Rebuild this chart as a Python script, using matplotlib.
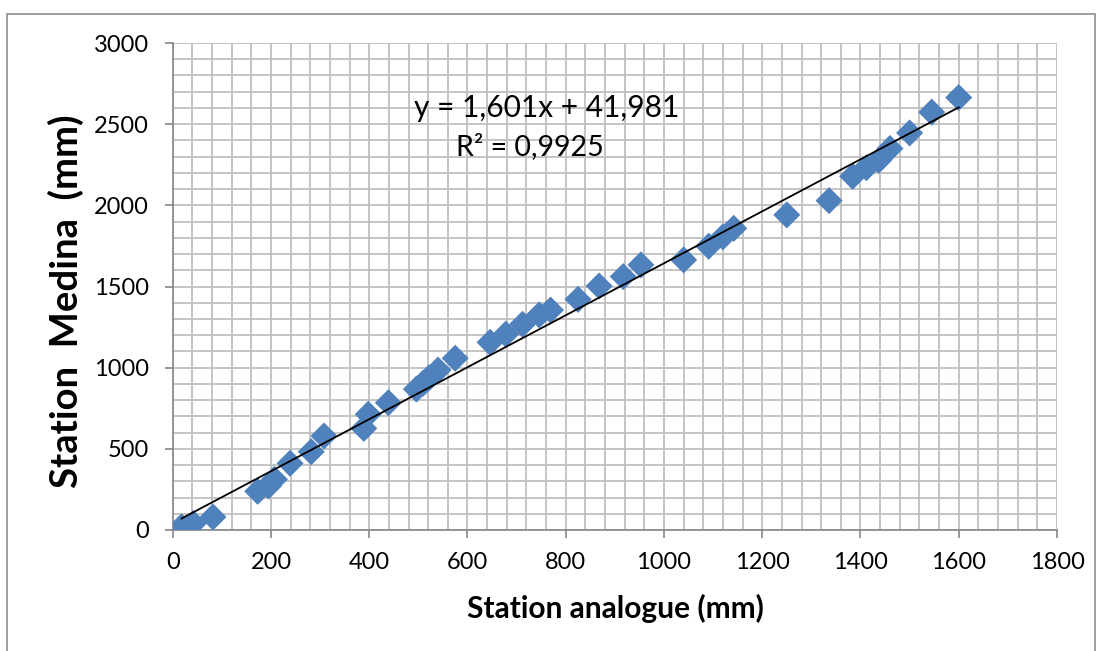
import numpy as np
import matplotlib
matplotlib.use("Agg")
import matplotlib.pyplot as plt
from matplotlib.ticker import MultipleLocator
from matplotlib.patches import Rectangle

# Data
analogue = [18, 42, 82, 173, 195, 207, 239, 282, 308, 389, 398, 439, 496, 510,
            522, 540, 575, 646, 678, 712, 746, 769, 825, 868, 917, 953, 1040,
            1091, 1120, 1142, 1250, 1336, 1384, 1412, 1437, 1460, 1500, 1545, 1600]
medina = [20, 40, 80, 238, 271, 312, 411, 482, 579, 626, 713, 784, 868, 905,
          938, 985, 1058, 1156, 1206, 1267, 1325, 1355, 1421, 1503, 1561, 1633, 1664,
          1748, 1806, 1858, 1941, 2029, 2179, 2232, 2277, 2350, 2446, 2574, 2664]
slope = 1.601
intercept = 41.981
eq_text = "y = 1,601x + 41,981"
r2_text = "R² = 0,9925"
x_ticks = [0, 200, 400, 600, 800, 1000, 1200, 1400, 1600, 1800]
y_ticks = [0, 500, 1000, 1500, 2000, 2500, 3000]

plt.rcParams['font.family'] = ['Lato', 'DejaVu Sans']

W, H = 1102, 651
fig = plt.figure(figsize=(W / 100, H / 100), dpi=100)
fig.patch.set_facecolor('white')

# outer chart border
fig.add_artist(Rectangle((7 / W, -0.01), (1095 - 7) / W, 1 - 14 / H + 0.01,
                         transform=fig.transFigure, fill=False,
                         edgecolor='#8c8c8c', linewidth=1.2))

ax = fig.add_axes([172.7 / W, 1 - 530 / H, (1057 - 172.7) / W, (530 - 43) / H])
ax.set_xlim(0, 1800)
ax.set_ylim(0, 3000)
ax.xaxis.set_minor_locator(MultipleLocator(40))
ax.yaxis.set_minor_locator(MultipleLocator(100))
ax.set_xticks(x_ticks)
ax.set_yticks(y_ticks)

gridc = '#bfbfbf'
ax.grid(True, which='both', color=gridc, linewidth=1.3)
ax.set_axisbelow(True)

for s in ['top', 'right']:
    ax.spines[s].set_visible(False)
for s in ['left', 'bottom']:
    ax.spines[s].set_color('#868686')
    ax.spines[s].set_linewidth(1.2)

ax.tick_params(which='major', direction='out', length=6, width=1.2,
               color='#868686', labelsize=17, labelcolor='black')
ax.tick_params(which='minor', length=0)
ax.tick_params(axis='y', pad=11)
ax.tick_params(axis='x', pad=10)

ax.scatter(analogue, medina, marker='D', s=190, color='#4f81bd',
           edgecolors='none', zorder=3)

xl = np.array([min(analogue), max(analogue)])
ax.plot(xl, slope * xl + intercept, color='black', linewidth=1.3, zorder=4)

ax.text((547 - 172.7) / (1057 - 172.7), (530 - 108) / 487, eq_text,
        transform=ax.transAxes, ha='center', va='center', fontsize=21.5)
ax.text((530 - 172.7) / (1057 - 172.7), (530 - 147) / 487, r2_text,
        transform=ax.transAxes, ha='center', va='center', fontsize=20.5)

fig.text(615 / W, 1 - 608 / H, "Station analogue (mm)", ha='center', va='center',
         fontsize=21.5, fontweight='bold')
fig.text(66 / W, 1 - 301 / H, "Station  Medina  (mm)", ha='center', va='center',
         rotation=90, fontsize=27.5, fontweight='bold')

fig.savefig('out.png', dpi=100, facecolor='white')
